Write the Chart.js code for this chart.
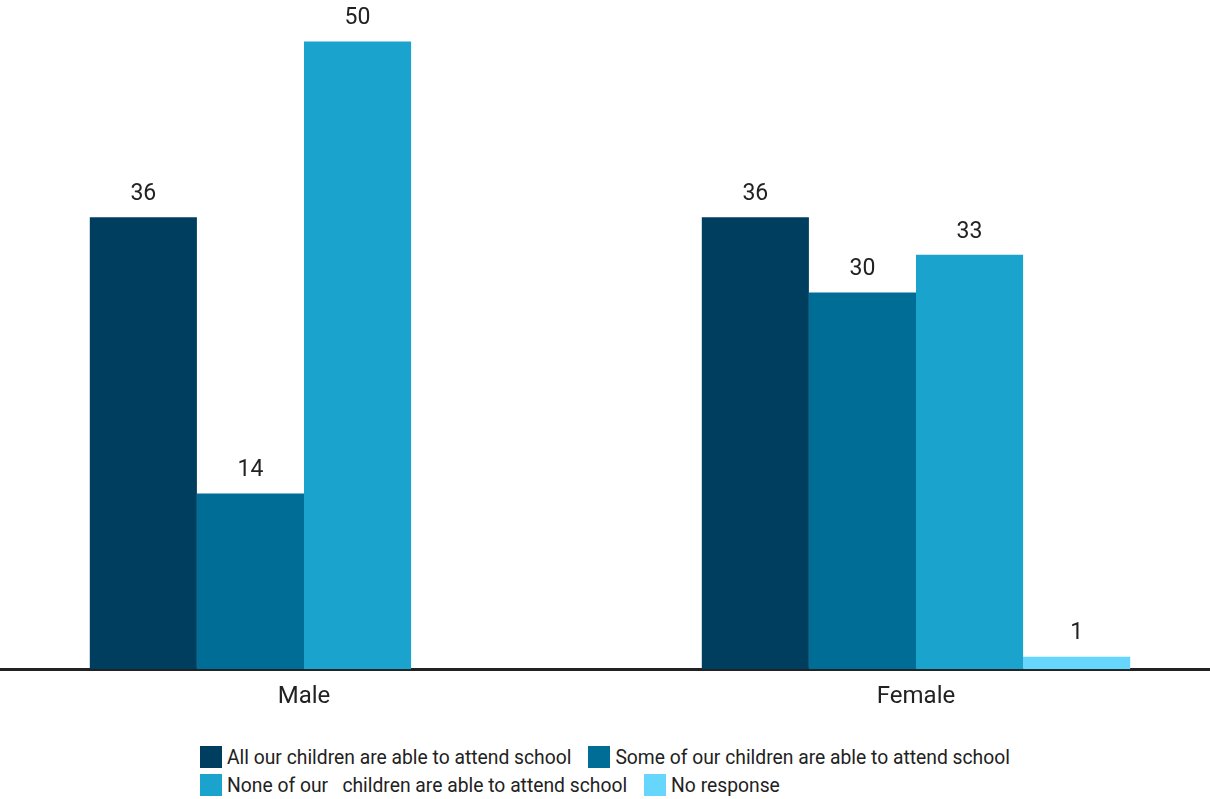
<!DOCTYPE html>
<html>
<head>
<meta charset="utf-8">
<script src="https://cdn.jsdelivr.net/npm/chart.js@4.4.0/dist/chart.umd.min.js"></script>
<style>
  html, body { margin: 0; padding: 0; background: #fff; overflow: hidden; }
  body { width: 1210px; height: 799px; position: relative; font-family: Roboto, sans-serif; }
  #wrap { position: absolute; left: -2px; top: 0; width: 1224px; height: 724px; }
  #legend { position: absolute; left: 200px; top: 746px; width: 850px; display: flex; flex-wrap: wrap; row-gap: 6px; }
  .item { display: flex; align-items: center; margin-right: 17px; font-size: 19.3px; color: #222; white-space: pre; height: 22px; }
  .box { width: 22px; height: 22px; margin-right: 5px; }
</style>
</head>
<body>
<div id="wrap"><canvas id="chart"></canvas></div>
<div id="legend"></div>
<script>
// categories and series
const categories = ['Male', 'Female'];
const seriesNames = [
    'All our children are able to attend school',
    'Some of our children are able to attend school',
    'None of our   children are able to attend school',
    'No response'
];
const allAttend = [36, 36];
const someAttend = [14, 30];
const noneAttend = [50, 33];
const noResponse = [0, 1];
const colors = ['#003e60', '#006d97', '#1aa3cd', '#66d6fc'];

// value labels above each bar (0 is not shown)
const barLabels = {
    id: 'barLabels',
    afterDatasetsDraw(chart) {
        const ctx = chart.ctx;
        ctx.save();
        ctx.font = '23px Roboto, sans-serif';
        ctx.fillStyle = '#222';
        ctx.textAlign = 'center';
        ctx.textBaseline = 'middle';
        chart.data.datasets.forEach((ds, i) => {
            chart.getDatasetMeta(i).data.forEach((bar, j) => {
                const v = ds.data[j];
                if (!v) return;
                ctx.fillText(String(v), bar.x, bar.y - 23);
            });
        });
        ctx.restore();
    }
};

const ctx = document.getElementById('chart').getContext('2d');
const chart = new Chart(ctx, {
    type: 'bar',
    data: {
        labels: categories,
        datasets: [allAttend, someAttend, noneAttend, noResponse].map((d, i) => ({
            label: seriesNames[i],
            data: d,
            backgroundColor: colors[i],
            categoryPercentage: 0.7,
            barPercentage: 1.0
        }))
    },
    options: {
        responsive: true,
        maintainAspectRatio: false,
        animation: false,
        layout: { padding: { top: 0, bottom: 8 } },
        plugins: {
            legend: { display: false },
            tooltip: { enabled: false }
        },
        scales: {
            x: {
                grid: { display: false },
                border: { display: true, color: '#222', width: 3 },
                ticks: { color: '#222', font: { family: 'Roboto', size: 24 }, padding: 5 }
            },
            y: {
                display: false,
                min: 0,
                max: 53.3
            }
        }
    },
    plugins: [barLabels]
});

// html legend built from the datasets
const legend = document.getElementById('legend');
chart.data.datasets.forEach(ds => {
    const item = document.createElement('div');
    item.className = 'item';
    const box = document.createElement('span');
    box.className = 'box';
    box.style.background = ds.backgroundColor;
    item.appendChild(box);
    item.appendChild(document.createTextNode(ds.label));
    legend.appendChild(item);
});
</script>
</body>
</html>
